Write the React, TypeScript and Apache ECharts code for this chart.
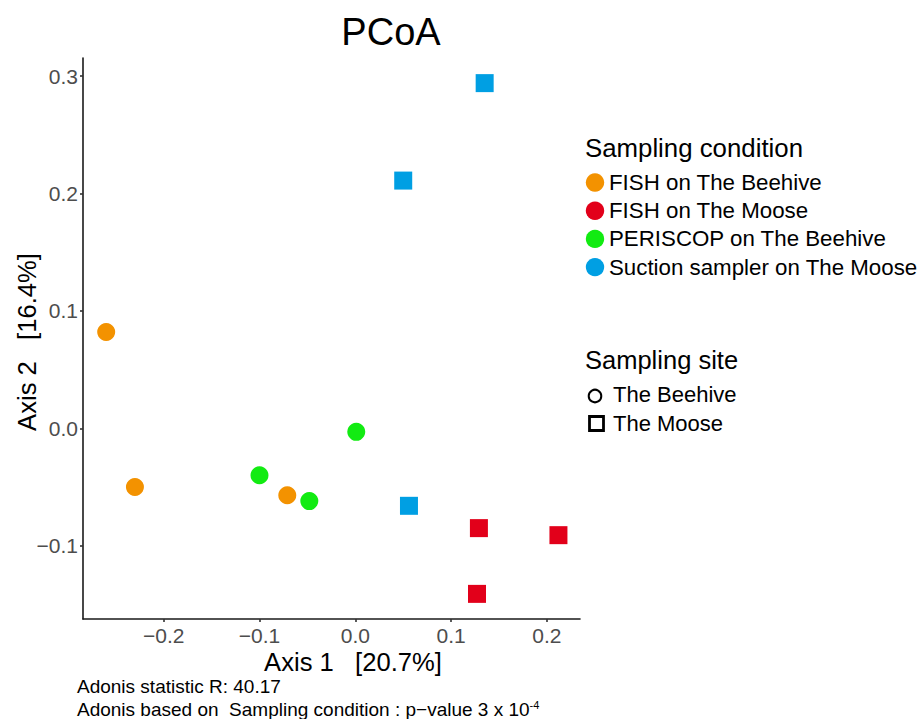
import React, { useEffect, useRef } from "react";
import * as echarts from "echarts";

// Sampling condition series (Axis 1, Axis 2 coordinates)
const fishBeehiveX = [-0.26, -0.23, -0.071];
const fishBeehiveY = [0.082, -0.05, -0.057];
const fishMooseX = [0.129, 0.212, 0.127];
const fishMooseY = [-0.085, -0.091, -0.141];
const periscopeX = [-0.1, -0.048, 0.001];
const periscopeY = [-0.04, -0.062, -0.003];
const suctionX = [0.135, 0.05, 0.056];
const suctionY = [0.294, 0.211, -0.066];

const conditionNames = [
  "FISH on The Beehive",
  "FISH on The Moose",
  "PERISCOP on The Beehive",
  "Suction sampler on The Moose",
];
const conditionColors = ["#F39200", "#E2001A", "#12EB12", "#009FE3"];
const conditionShapes = ["circle", "rect", "circle", "rect"];
const siteNames = ["The Beehive", "The Moose"];

const xTicks = [-0.2, -0.1, 0.0, 0.1, 0.2];
const yTicks = [-0.1, 0.0, 0.1, 0.2, 0.3];

const xTitle = "Axis 1   [20.7%]";
const yTitle = "Axis 2   [16.4%]";
const chartTitle = "PCoA";
const footer1 = "Adonis statistic R: 40.17";
const footer2 = "Adonis based on  Sampling condition : p\u2212value 3 x 10";
const footerSup = "-4";

const FONT = "'Liberation Sans', Arial, Helvetica, sans-serif";

function zip(xs: number[], ys: number[]) {
  return xs.map((x, i) => [x, ys[i]]);
}

function fmt(v: number) {
  const s = Math.abs(v).toFixed(1);
  return v < -1e-9 ? "\u2212" + s : s;
}

function txt(text: string, x: number, y: number, size: number, align = "left") {
  return {
    type: "text",
    style: {
      text,
      x,
      y,
      font: `${size}px ${FONT}`,
      fill: "#000",
      align,
      verticalAlign: "middle",
      textAlign: align,
      textVerticalAlign: "middle",
    },
  };
}

export default function App() {
  const ref = useRef<HTMLDivElement>(null);
  useEffect(() => {
    document.body.style.margin = "0";
    if (!ref.current) return;
    const chart = echarts.init(ref.current, undefined, { renderer: "svg" });
    const seriesData = [
      zip(fishBeehiveX, fishBeehiveY),
      zip(fishMooseX, fishMooseY),
      zip(periscopeX, periscopeY),
      zip(suctionX, suctionY),
    ];
    const legendGraphics: any[] = [];
    legendGraphics.push(txt("Sampling condition", 585, 148, 25.8));
    conditionNames.forEach((name, i) => {
      const cy = 182.5 + i * 28.2;
      legendGraphics.push({
        type: "circle",
        shape: { cx: 595, cy, r: 9.2 },
        style: { fill: conditionColors[i] },
      });
      legendGraphics.push(txt(name, 609, cy, 22.3));
    });
    legendGraphics.push(txt("Sampling site", 585, 360, 25.5));
    legendGraphics.push({
      type: "circle",
      shape: { cx: 595, cy: 396, r: 6.3 },
      style: { fill: "none", stroke: "#000", lineWidth: 2 },
    });
    legendGraphics.push({
      type: "rect",
      shape: { x: 589.5, y: 416.5, width: 14, height: 14 },
      style: { fill: "none", stroke: "#000", lineWidth: 2.8 },
    });
    siteNames.forEach((name, i) => {
      legendGraphics.push(txt(name, 613, 394 + i * 29, 22));
    });

    const option: any = {
      animation: false,
      backgroundColor: "#fff",
      textStyle: { fontFamily: FONT },
      grid: { left: 83, top: 58, width: 497, height: 561, containLabel: false },
      xAxis: {
        type: "value",
        min: -0.2842,
        max: 0.2345,
        splitLine: { show: false },
        axisLine: { show: true, onZero: false, lineStyle: { color: "#1a1a1a", width: 1.6 } },
        axisTick: { show: true, length: 3, customValues: xTicks, lineStyle: { color: "#333", width: 1.6 } },
        axisLabel: {
          customValues: xTicks,
          formatter: (v: number) => fmt(v),
          fontSize: 21,
          color: "#4d4d4d",
          margin: 6,
          fontFamily: FONT,
        },
      },
      yAxis: {
        type: "value",
        min: -0.1624,
        max: 0.3154,
        splitLine: { show: false },
        axisLine: { show: true, onZero: false, lineStyle: { color: "#1a1a1a", width: 1.6 } },
        axisTick: { show: true, length: 3, customValues: yTicks, lineStyle: { color: "#333", width: 1.6 } },
        axisLabel: {
          customValues: yTicks,
          formatter: (v: number) => fmt(v),
          fontSize: 21,
          color: "#4d4d4d",
          margin: 5,
          fontFamily: FONT,
        },
      },
      series: conditionNames.map((name, i) => ({
        name,
        type: "scatter",
        symbol: conditionShapes[i],
        symbolSize: 18,
        itemStyle: { color: conditionColors[i], opacity: 1 },
        data: seriesData[i],
      })),
      graphic: [
        txt(chartTitle, 391, 32, 38, "center"),
        txt(xTitle, 353, 662, 25.6, "center"),
        {
          type: "text",
          x: 27,
          y: 342,
          rotation: Math.PI / 2,
          style: {
            text: yTitle,
            x: 0,
            y: 0,
            font: `25.6px ${FONT}`,
            fill: "#000",
            align: "center",
            verticalAlign: "middle",
            textAlign: "center",
            textVerticalAlign: "middle",
          },
        },
        txt(footer1, 77, 686, 19),
        {
          type: "text",
          style: {
            text: `{n|${footer2}}{s|${footerSup}}`,
            x: 77,
            y: 709,
            fill: "#000",
            align: "left",
            verticalAlign: "middle",
            textAlign: "left",
            textVerticalAlign: "middle",
            rich: {
              n: { fontSize: 19, fontFamily: FONT, lineHeight: 19, fill: "#000", color: "#000" },
              s: { fontSize: 11, fontFamily: FONT, verticalAlign: "top", lineHeight: 11, fill: "#000", color: "#000" },
            },
          },
        },
        ...legendGraphics,
      ],
    };
    chart.setOption(option);
    return () => chart.dispose();
  }, []);
  return <div ref={ref} style={{ width: 920, height: 719 }} />;
}
